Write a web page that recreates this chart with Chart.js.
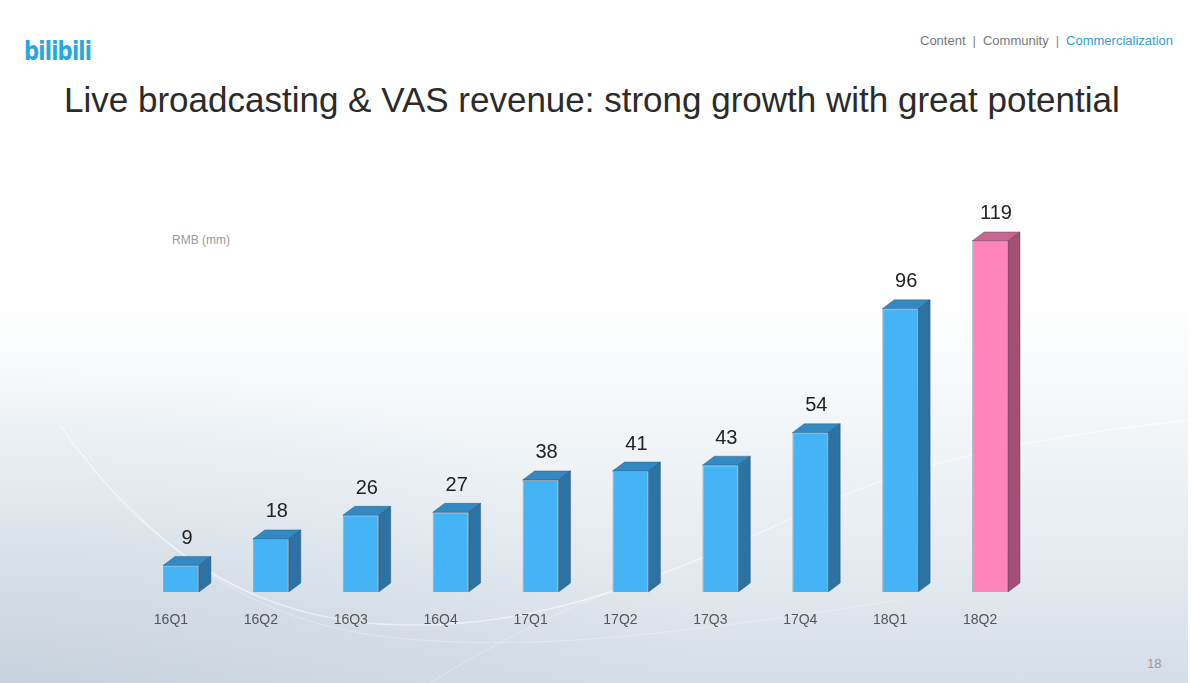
<!DOCTYPE html>
<html>
<head>
<meta charset="utf-8">
<script src="https://cdn.jsdelivr.net/npm/chart.js@4.4.1/dist/chart.umd.min.js"></script>
<style>
  html, body { margin:0; padding:0; width:1192px; height:683px; overflow:hidden; }
  body {
    position:relative;
    font-family: "Liberation Sans", Arial, Helvetica, sans-serif;
    background:
      radial-gradient(ellipse 700px 330px at 0% 100%, rgba(170,188,205,0.35) 0%, rgba(170,188,205,0.0) 100%),
      linear-gradient(to bottom, #ffffff 0%, #ffffff 44%, #f4f7f9 60%, #e6ecf1 80%, #d5dee7 100%);
  }
  #swoosh { position:absolute; left:0; top:0; width:1192px; height:683px; }
  #chartWrap { position:absolute; left:0; top:0; width:1192px; height:683px; }
  .logo { position:absolute; left:24px; top:35px; font-size:27px; font-weight:bold; color:#25a8e0; letter-spacing:-1px; transform:scaleX(0.78); transform-origin:left top; font-family:"DejaVu Sans", sans-serif; }
  .nav { position:absolute; right:19px; top:33px; font-size:13px; color:#777; white-space:nowrap; }
  .nav .sep { margin:0 7px; color:#888; }
  .nav .act { color:#2a9fd8; }
  .title { position:absolute; left:64px; top:80px; font-size:35px; color:#2b2b2b; white-space:nowrap; }
  .unit { position:absolute; left:172px; top:233px; font-size:12px; color:#9a9a9a; }
  .page { position:absolute; left:1147px; top:656px; font-size:13px; color:#999; }
  .edge { position:absolute; right:0; top:0; width:4px; height:683px; background:#fff; }
</style>
</head>
<body>
<svg id="swoosh" viewBox="0 0 1192 683">
  <path d="M 60 425 C 140 540, 240 615, 380 624 C 520 633, 640 590, 820 505 C 900 470, 1000 440, 1192 420" fill="none" stroke="#ffffff" stroke-opacity="0.55" stroke-width="1.5"/>
  <path d="M 70 430 C 160 560, 260 630, 420 640 C 560 650, 700 630, 900 600" fill="none" stroke="#ffffff" stroke-opacity="0.3" stroke-width="1"/>
  <path d="M 430 683 C 500 640, 560 610, 640 580" fill="none" stroke="#ffffff" stroke-opacity="0.3" stroke-width="1"/>
</svg>
<div class="logo">bilibili</div>
<div class="nav">Content<span class="sep">|</span>Community<span class="sep">|</span><span class="act">Commercialization</span></div>
<div class="title">Live broadcasting &amp; VAS revenue: strong growth with great potential</div>
<div class="unit">RMB (mm)</div>
<div class="page">18</div>
<div class="edge"></div>
<div id="chartWrap"><canvas id="c" width="1192" height="683"></canvas></div>
<script>
const categories = ["16Q1","16Q2","16Q3","16Q4","17Q1","17Q2","17Q3","17Q4","18Q1","18Q2"];
const revenue = [9, 18, 26, 27, 38, 41, 43, 54, 96, 119];
const frontColors = ["#45b4f6","#45b4f6","#45b4f6","#45b4f6","#45b4f6","#45b4f6","#45b4f6","#45b4f6","#45b4f6","#ff85b8"];
const topColors   = ["#3389c2","#3389c2","#3389c2","#3389c2","#3389c2","#3389c2","#3389c2","#3389c2","#3389c2","#c7668f"];
const sideColors  = ["#2c72a3","#2c72a3","#2c72a3","#2c72a3","#2c72a3","#2c72a3","#2c72a3","#2c72a3","#2c72a3","#a34f76"];

const DX = 12, DY = 9;
const bar3d = {
  id: 'bar3d',
  afterDatasetsDraw(chart) {
    const ctx = chart.ctx;
    const meta = chart.getDatasetMeta(0);
    meta.data.forEach((bar, i) => {
      const w = bar.width;
      const l = bar.x - w/2, r = bar.x + w/2, t = bar.y, b = bar.base;
      ctx.save();
      ctx.lineWidth = 1;
      ctx.strokeStyle = "rgba(30,60,90,0.35)";
      ctx.beginPath();
      ctx.moveTo(l, t); ctx.lineTo(r, t); ctx.lineTo(r+DX, t-DY); ctx.lineTo(l+DX, t-DY); ctx.closePath();
      ctx.fillStyle = topColors[i]; ctx.fill(); ctx.stroke();
      ctx.beginPath();
      ctx.moveTo(r, t); ctx.lineTo(r+DX, t-DY); ctx.lineTo(r+DX, b-DY); ctx.lineTo(r, b); ctx.closePath();
      ctx.fillStyle = sideColors[i]; ctx.fill(); ctx.stroke();
      ctx.fillStyle = "#222";
      ctx.font = "20px 'Liberation Sans', Arial, sans-serif";
      ctx.textAlign = "center";
      ctx.textBaseline = "middle";
      ctx.fillText(String(revenue[i]), bar.x + DX/2, t - DY - 18);
      ctx.restore();
    });
  }
};

new Chart(document.getElementById('c'), {
  type: 'bar',
  data: {
    labels: categories,
    datasets: [{
      data: revenue,
      backgroundColor: frontColors,
      borderColor: "rgba(30,60,90,0.35)",
      borderWidth: 1,
      barPercentage: 0.8,
      categoryPercentage: 0.5
    }]
  },
  options: {
    responsive: false,
    animation: false,
    layout: { padding: { left: 136, right: 157, top: 208.5, bottom: 0 } },
    plugins: { legend: { display: false }, tooltip: { enabled: false } },
    scales: {
      x: {
        grid: { display: false },
        border: { display: false },
        ticks: { color: "#555", font: { size: 14, family: "'Liberation Sans', Arial, sans-serif" }, padding: 12, labelOffset: -10 },
        afterFit(scale) { scale.height = 91; }
      },
      y: { display: false, min: 0, max: 130 }
    }
  },
  plugins: [bar3d]
});
</script>
</body>
</html>
